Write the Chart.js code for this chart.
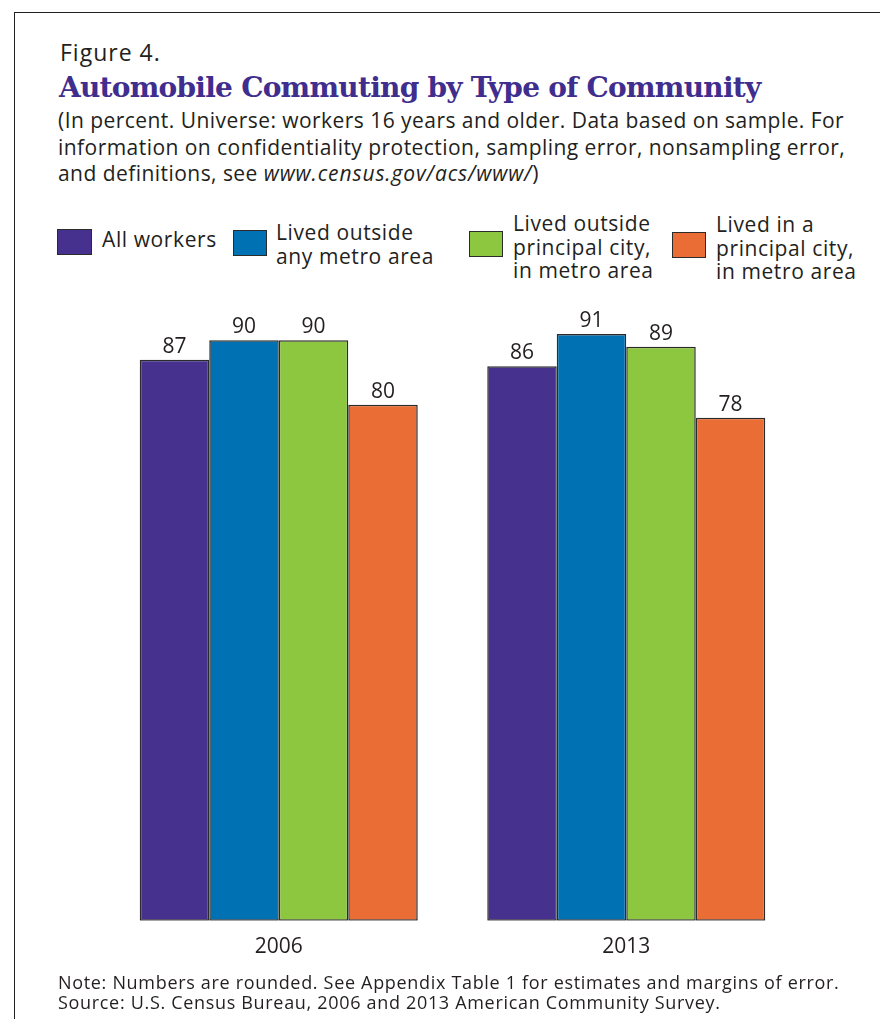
<!DOCTYPE html>
<html>
<head>
<meta charset="utf-8">
<script src="https://cdn.jsdelivr.net/npm/chart.js@4.4.1/dist/chart.umd.min.js"></script>
<style>
  html, body { margin:0; padding:0; background:#fff; }
  body { width:880px; height:1019px; position:relative; overflow:hidden; font-family:"Open Sans", sans-serif; color:#231f20; }
  #frame { position:absolute; left:14px; top:12px; width:1000px; height:1100px; border-left:1.6px solid #231f20; border-top:1.6px solid #231f20; }
  .t { position:absolute; white-space:nowrap; }
  #fig { left:60px; top:41px; font-size:23px; line-height:22px; letter-spacing:1px; }
  #title { left:59px; top:74px; font-family:"DejaVu Serif", serif; font-weight:bold; font-size:28px; line-height:28px; color:#3f2e8e; letter-spacing:-0.75px; }
  #sub { left:58px; top:107px; font-size:21px; line-height:26.5px; letter-spacing:0.45px; }
  #sub i { letter-spacing:0.9px; }
  #note { left:58px; top:972px; font-size:18px; line-height:20px; letter-spacing:0.68px; }
  .sw { position:absolute; border:1.5px solid #2b2b2b; box-sizing:border-box; }
  .lg { position:absolute; font-size:21px; line-height:23.5px; white-space:nowrap; letter-spacing:0.6px; }
  canvas { position:absolute; left:0; top:0; }
</style>
</head>
<body>
<div id="frame"></div>
<div class="t" id="fig">Figure 4.</div>
<div class="t" id="title">Automobile Commuting by Type of Community</div>
<div class="t" id="sub">(In percent. Universe: workers 16 years and older. Data based on sample. For<br>information on confidentiality protection, sampling error, nonsampling error,<br>and definitions, see <i>www.census.gov/acs/www/</i>)</div>
<div id="legend"></div>
<canvas id="c" width="880" height="1019"></canvas>
<div class="t" id="note">Note: Numbers are rounded. See Appendix Table 1 for estimates and margins of error.<br>Source: U.S. Census Bureau, 2006 and 2013 American Community Survey.</div>
<script>
// ---- data ----
const categories = ['2006', '2013'];
const seriesNames = [
  ['All workers'],
  ['Lived outside', 'any metro area'],
  ['Lived outside', 'principal city,', 'in metro area'],
  ['Lived in a', 'principal city,', 'in metro area']
];
const allWorkers = [87, 86];
const outsideMetro = [90, 91];
const outsidePrincipalCity = [90, 89];
const inPrincipalCity = [80, 78];
const seriesColors = ['#46318f', '#0071b3', '#8dc63f', '#e96d35'];

// ---- legend (HTML) ----
const legendPos = [
  {sx:57, sy:229, sw:35, sh:26, tx:102, ty:228},
  {sx:233, sy:230, sw:34, sh:26, tx:276, ty:221},
  {sx:469, sy:231, sw:34, sh:26, tx:513, ty:212},
  {sx:672, sy:232, sw:34, sh:26, tx:716, ty:213}
];
const legend = document.getElementById('legend');
seriesNames.forEach((lines, i) => {
  const p = legendPos[i];
  const s = document.createElement('div');
  s.className = 'sw';
  s.style.cssText = `left:${p.sx}px;top:${p.sy}px;width:${p.sw}px;height:${p.sh}px;background:${seriesColors[i]}`;
  legend.appendChild(s);
  const t = document.createElement('div');
  t.className = 'lg';
  t.style.left = p.tx + 'px';
  t.style.top = p.ty + 'px';
  t.innerHTML = lines.join('<br>');
  legend.appendChild(t);
});

// ---- value labels plugin ----
const valueLabels = {
  id: 'valueLabels',
  afterDatasetsDraw(chart) {
    const ctx = chart.ctx;
    ctx.save();
    ctx.font = '21px "Open Sans"';
    ctx.fillStyle = '#231f20';
    ctx.textAlign = 'center';
    ctx.textBaseline = 'alphabetic';
    chart.data.datasets.forEach((ds, di) => {
      chart.getDatasetMeta(di).data.forEach((bar, i) => {
        ctx.fillText(String(ds.data[i]), bar.x, bar.y - 7);
      });
    });
    ctx.restore();
  }
};

const seriesData = [allWorkers, outsideMetro, outsidePrincipalCity, inPrincipalCity];
new Chart(document.getElementById('c'), {
  type: 'bar',
  data: {
    labels: categories,
    datasets: seriesData.map((d, i) => ({
      label: seriesNames[i].join(' '),
      data: d,
      backgroundColor: seriesColors[i],
      borderColor: '#2b2b2b',
      borderWidth: 1.5,
      borderSkipped: false,
      categoryPercentage: 0.8,
      barPercentage: 1.0
    }))
  },
  options: {
    responsive: false,
    animation: false,
    devicePixelRatio: 1,
    layout: { padding: { left: 105, right: 80, top: 321, bottom: 45 } },
    plugins: { legend: { display: false }, tooltip: { enabled: false } },
    scales: {
      y: { display: false, min: 0, max: 93 },
      x: {
        grid: { display: false, drawTicks: false },
        border: { display: false },
        ticks: { font: { family: 'Open Sans', size: 21 }, color: '#231f20', padding: 14 }
      }
    }
  },
  plugins: [valueLabels]
});
</script>
</body>
</html>
